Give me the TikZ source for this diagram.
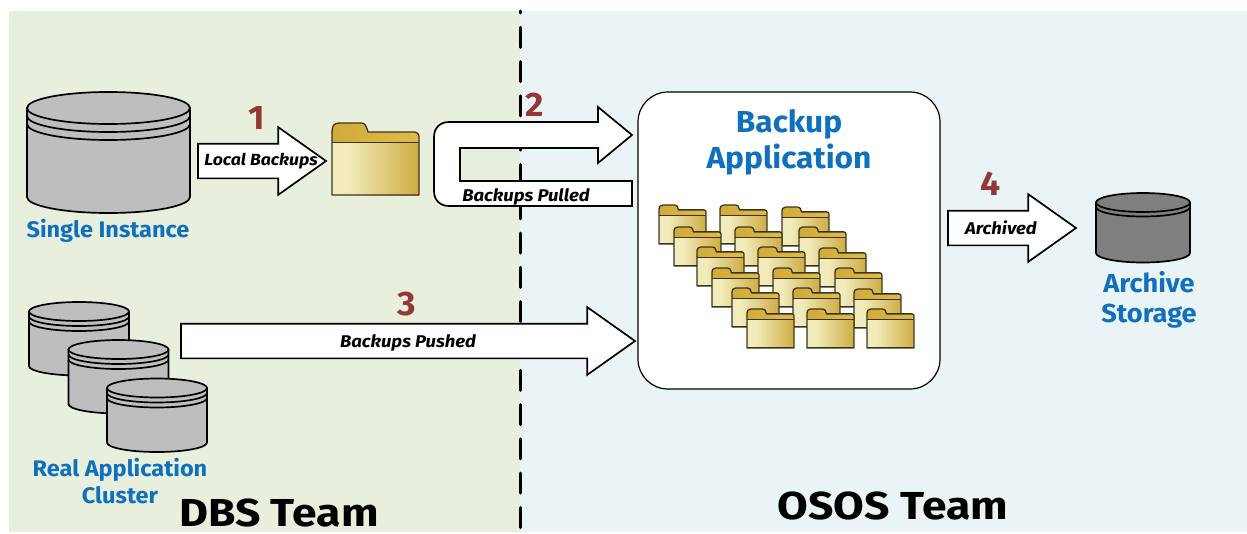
\documentclass[tikz,border=0pt]{standalone}
\usepackage{fontspec}
\setmainfont[FakeStretch=1.045]{Fira Sans}
\newfontfamily\arrowfont[FakeStretch=1.09]{Fira Sans}
\newfontfamily\teamfont[FakeStretch=1.14]{Fira Sans}
\usetikzlibrary{shapes.arrows}
\definecolor{dbsback}{HTML}{E8EFDD}
\definecolor{ososback}{HTML}{EAF3F6}
\definecolor{teamblue}{HTML}{0F70BE}
\definecolor{stepred}{HTML}{953735}
\definecolor{drumgrey}{HTML}{BEBEBE}
\definecolor{archivegrey}{HTML}{7F7F7F}
\definecolor{foldlight}{HTML}{F2EBBB}
\definecolor{folddark}{HTML}{CFAE45}
\definecolor{foldband}{HTML}{D0AB3A}
\definecolor{foldbandlight}{HTML}{E0BB48}
\definecolor{foldline}{HTML}{3B3520}
\pgfdeclarehorizontalshading{foldshade}{100bp}{color(0bp)=(foldlight); color(25bp)=(foldlight); color(34bp)=(foldlight); color(74bp)=(folddark); color(100bp)=(folddark)}
\tikzset{
  blockarrow/.style = {single arrow, draw = black, fill = white, line width = 1.7pt, inner xsep = 0pt, inner ysep = 16.5pt, outer sep = 0pt,
    single arrow head extend = 16.5pt, single arrow tip angle = 70.6, anchor = tail},
  arrowtext/.style = {font = \fontsize{17}{20}\arrowfont\bfseries\itshape},
  stepnum/.style = {text = stepred, font = \fontsize{34}{40}\selectfont\bfseries},
  bluetext/.style = {text = teamblue, align = center, font = \fontsize{22.5}{27}\selectfont\bfseries},
  teamtext/.style = {inner sep = 0pt, anchor = base, font = \fontsize{39}{44}\teamfont\bfseries},
}
% x, y, scale
\newcommand{\drawfolder}[3]{
  \begin{scope}[shift = {(#1, #2)}, scale = #3]
    \shade [left color = foldband, right color = foldbandlight] (0, 22) -- (0, 9) .. controls (0, 3) and (2, 0) .. (7, 0) -- (29, 0) .. controls (33, 0) and (34, 2) .. (36, 9) -- (83, 9) .. controls (85, 9) and (87, 11) .. (87, 13) -- (87, 22) -- cycle;
    \shade [shading = foldshade] (0, 19) rectangle (87, 72);
    \draw [foldline, line width = 0.6pt] (0, 19) -- (87, 19);
    \draw [foldline, line width = 1.3pt, line join = round] (0, 72) -- (0, 9) .. controls (0, 3) and (2, 0) .. (7, 0) -- (29, 0) .. controls (33, 0) and (34, 2) .. (36, 9) -- (83, 9) .. controls (85, 9) and (87, 11) .. (87, 13) -- (87, 72) -- cycle;
  \end{scope}
}
% centre x, top y, half width, half height, side, rim offsets, fill
\newcommand{\drawdrum}[7]{
  \filldraw [line width = 1.7pt, fill = #7] (#1 - #3, #2) -- ++(0, #5) arc (180:0:#3 and #4) -- ++(0, -#5) -- cycle;
  \foreach \rim in {#6} {
    \draw [line width = 1.7pt] (#1 - #3, #2 + \rim) arc (180:0:#3 and #4);
  }
  \filldraw [line width = 1.7pt, fill = #7] (#1, #2) ellipse (#3 and #4);
}
\begin{document}
\begin{tikzpicture}[x = 1pt, y = -1pt]
  \useasboundingbox (0, 0) rectangle (1247, 533);
  \fill [dbsback] (9, 11) rectangle (520, 532);
  \fill [ososback] (520, 11) rectangle (1247, 532);
  \draw [line width = 3pt, line cap = round, dash pattern = on 20pt off 14.3pt, dash phase = 18pt] (520, 11) -- (520, 530);

  % single instance
  \drawdrum{108.5}{108}{81.5}{16}{89}{8, 16}{drumgrey}
  \node [bluetext] (singlelabel) at (108, 230.5) {Single Instance};
  \node [blockarrow, minimum height = 128pt] (localarrow) at (198, 161) {};
  \node [arrowtext, font = \fontsize{16.2}{20}\arrowfont\bfseries\itshape] (localtext) at (261, 161.5) {Local Backups};
  \node [stepnum] (stepone) at (256.5, 118) {1};
  \drawfolder{332}{123}{1}

  % pulled arrow
  \draw [line width = 1.7pt, fill = white] (632, 206) -- (449, 206) .. controls (440, 206) and (434, 200) .. (434, 191) -- (434, 137) .. controls (434, 128) and (440, 122) .. (449, 122) -- (598, 122) -- (598, 107) -- (632, 135) -- (598, 163) -- (598, 148) -- (460, 148) -- (460, 181) -- (632, 181) -- cycle;
  \node [arrowtext] (pulledtext) at (526, 196.5) {Backups Pulled};
  \node [stepnum] (steptwo) at (535, 105) {2};

  % backup application
  \draw [line width = 1.2pt, fill = white, rounded corners = 30pt] (638, 92) rectangle (940, 389);
  \node [text = teamblue, align = center, font = \fontsize{30.3}{36}\selectfont\bfseries] (backuplabel) at (789, 142) {Backup\\Application};
  \foreach \fx/\fy in {659/205, 720/205, 782/207, 674/227, 735/227, 799/227, 697/247, 758/247, 819/248, 712/268, 773/268, 835/268, 732/288, 793/288, 854/289, 747/309, 807/309, 867/309} {
    \drawfolder{\fx}{\fy}{0.54}
  }

  % real application cluster
  \drawdrum{79}{311.5}{50}{9.5}{54.5}{5, 10}{drumgrey}
  \drawdrum{118.5}{349.5}{50}{9.5}{54.5}{5, 10}{drumgrey}
  \drawdrum{157}{388}{50}{9.5}{54.5}{5, 10}{drumgrey}
  \node [bluetext] (raclabel) at (120, 481) {Real Application\\Cluster};
  \node [blockarrow, minimum height = 454pt] (pushedarrow) at (181, 341) {};
  \node [arrowtext] (pushedtext) at (408, 342.5) {Backups Pushed};
  \node [stepnum] (stepthree) at (407, 304) {3};

  % archive
  \node [blockarrow, minimum height = 128pt] (archivearrow) at (948, 228) {};
  \node [arrowtext] (archivetext) at (1001, 228) {Archived};
  \node [stepnum] (stepfour) at (991, 184) {4};
  \drawdrum{1143}{202.5}{47}{9.5}{50.5}{4.5}{archivegrey}
  \node [bluetext, font = \fontsize{26}{30}\selectfont\bfseries] (archivelabel) at (1149, 300) {Archive\\Storage};

  \node [teamtext] (dbslabel) at (279, 526) {DBS Team};
  \node [teamtext] (ososlabel) at (893, 519) {OSOS Team};
\end{tikzpicture}
\end{document}
